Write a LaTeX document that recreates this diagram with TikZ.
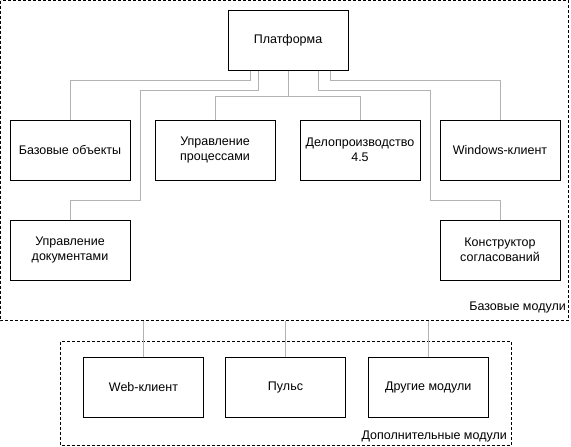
\documentclass[tikz,border=0pt]{standalone}
\usepackage{fontspec}
\setmainfont{Liberation Sans}
\definecolor{conncol}{RGB}{179,179,179}
\begin{document}
\begin{tikzpicture}[x=1pt,y=-1pt,
  box/.style={draw=black,line width=1pt,fill=white,minimum width=120pt,minimum height=60pt,inner sep=0pt,align=center,font=\fontsize{12.5}{15}\selectfont},
  conn/.style={draw=conncol,line width=1pt},
  grp/.style={draw=black,line width=0.8pt,dash pattern=on 3pt off 2pt},
  lbl/.style={font=\fontsize{12.5}{15}\selectfont,inner sep=0pt}]
\useasboundingbox (0,0) rectangle (571,447);
% groups
\draw[grp] (0.5,0.5) rectangle (568,320.5);
\draw[grp] (60.5,341.5) rectangle (511,445.5);
\coordinate (ob) at (0,320.5);
\node[lbl,anchor=base east] (lb1) at (566,310.8) {Базовые модули};
\node[lbl,anchor=base east] (lb2) at (507,439.5) {Дополнительные модули};
% connectors first (under boxes)
\draw[conn] (250,70) |- (70,80) -- (70,120);
\draw[conn] (258,70) |- (140,90) -- (140,200) -| (70,220);
\draw[conn] (288,70) -- (288,96);
\draw[conn] (215,120) |- (360,96) -- (360,120);
\draw[conn] (330,70) |- (500,80) -- (500,120);
\draw[conn] (318,70) |- (430,90) -- (430,200) -| (500,220);
% boxes
\node[box] (plat) at (288,40) {Платформа};
\node[box] (bo) at (70,150) {Базовые объекты};
\node[box] (up) at (215,150) {Управление\\процессами};
\node[box] (del) at (360,150) {Делопроизводство\\4.5};
\node[box] (win) at (500,150) {Windows-клиент};
\node[box] (ud) at (70,250) {Управление\\документами};
\node[box] (ks) at (500,250) {Конструктор\\согласований};
\node[box] (web) at (143.5,387) {Web-клиент};
\node[box] (puls) at (285.5,387) {Пульс};
\node[box] (dr) at (428.3,387) {Другие модули};
\draw[conn] (web.north) -- (web.north |- ob);
\draw[conn] (puls.north) -- (puls.north |- ob);
\draw[conn] (dr.north) -- (dr.north |- ob);
\end{tikzpicture}
\end{document}
